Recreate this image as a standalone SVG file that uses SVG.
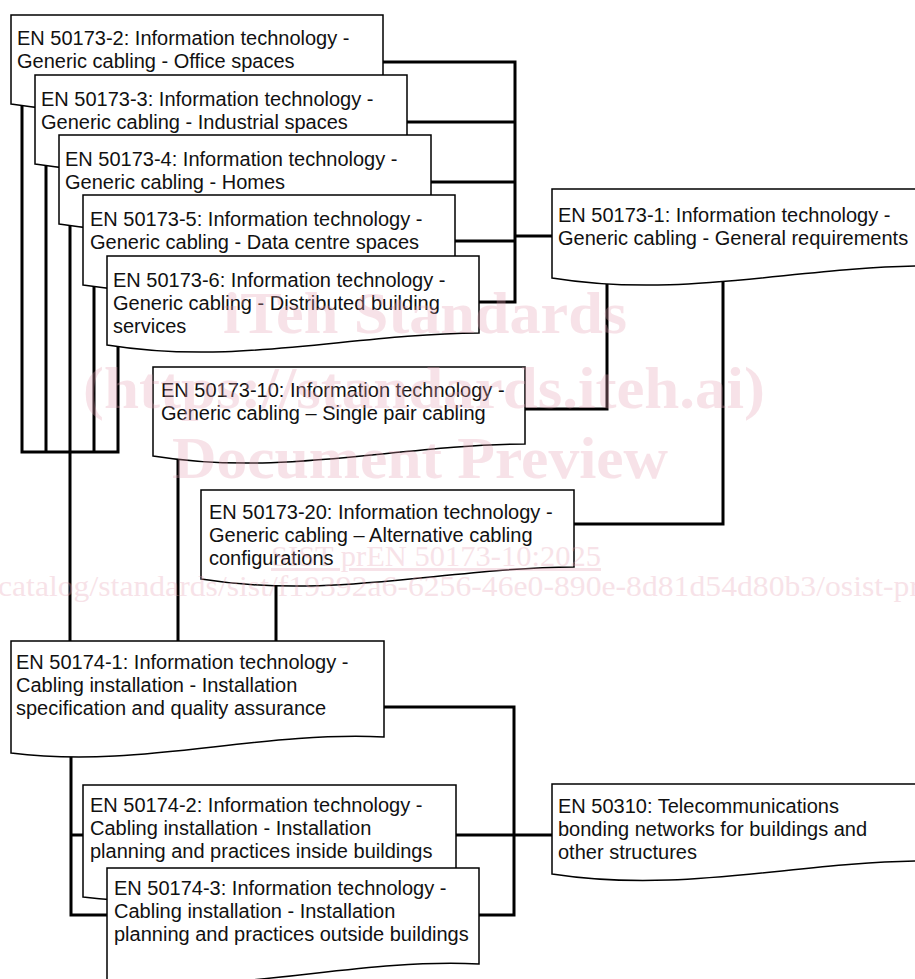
<svg xmlns="http://www.w3.org/2000/svg" width="915" height="979" viewBox="0 0 915 979">
<style>
.doc{fill:#fff;stroke:#000;stroke-width:1.5;stroke-linejoin:miter}
.t{font-family:"Liberation Sans",Arial,sans-serif;font-size:20px;fill:#111}
.c{fill:none;stroke:#000;stroke-width:3;stroke-linecap:square;stroke-linejoin:miter}
.wm{font-family:"Liberation Serif","Times New Roman",serif;fill:#e8a3b4;opacity:0.3}
.wmb{font-weight:bold;font-size:60px}
.wms{font-size:30px}
</style>
<rect x="0" y="0" width="915" height="979" fill="#fff"/>
<g id="connectors">
  <path class="c" d="M380,62 H515 M404,122 H515 M429,182 H515 M452,241 H515 M476,302 H515 M515,62 V302 M515,236 H552"/>
  <path class="c" d="M22,100 V452 M46,160 V452 M70,220 V645 M94,280 V452 M118,340 V452 M22,452 H118"/>
  <path class="c" d="M178,450 V645 M276,575 V645"/>
  <path class="c" d="M522,409 H607 V275 M570,524 H723 V275"/>
  <path class="c" d="M71,745 V915 H110 M71,835 H86 M380,707 H514 V915 H476 M452,835 H555"/>
</g>
<g id="n-50173-2">
  <path class="doc" d="M11,15 H383 V92 C253,93 141,125 11,104 Z"/>
  <text class="t" x="17" y="45">EN 50173-2: Information technology -</text>
  <text class="t" x="17" y="68">Generic cabling - Office spaces</text>
</g>
<g id="n-50173-3">
  <path class="doc" d="M35,75 H407 V152 C277,153 165,185 35,164 Z"/>
  <text class="t" x="41" y="106">EN 50173-3: Information technology -</text>
  <text class="t" x="41" y="129">Generic cabling - Industrial spaces</text>
</g>
<g id="n-50173-4">
  <path class="doc" d="M59,135 H431 V212 C301,213 189,245 59,224 Z"/>
  <text class="t" x="65" y="166">EN 50173-4: Information technology -</text>
  <text class="t" x="65" y="189">Generic cabling - Homes</text>
</g>
<g id="n-50173-5">
  <path class="doc" d="M83,195 H455 V272 C325,273 213,305 83,285 Z"/>
  <text class="t" x="90" y="226">EN 50173-5: Information technology -</text>
  <text class="t" x="90" y="249">Generic cabling - Data centre spaces</text>
</g>
<g id="n-50173-6">
  <path class="doc" d="M107,256 H479 V333 C349,334 237,366 107,345 Z"/>
  <text class="t" x="113" y="287">EN 50173-6: Information technology -</text>
  <text class="t" x="113" y="310">Generic cabling - Distributed building</text>
  <text class="t" x="113" y="333">services</text>
</g>
<g id="n-50173-1">
  <path class="doc" d="M552,189 H924 V266 C794,267 682,299 552,278 Z"/>
  <text class="t" x="558" y="222">EN 50173-1: Information technology -</text>
  <text class="t" x="558" y="245">Generic cabling - General requirements</text>
</g>
<g id="n-50173-10">
  <path class="doc" d="M153,367 H525 V444 C395,445 283,477 153,456 Z"/>
  <text class="t" x="161" y="397">EN 50173-10: Information technology -</text>
  <text class="t" x="161" y="420">Generic cabling – Single pair cabling</text>
</g>
<g id="n-50173-20">
  <path class="doc" d="M201,490 H574 V567 C444,568 331,600 201,579 Z"/>
  <text class="t" x="209" y="519">EN 50173-20: Information technology -</text>
  <text class="t" x="209" y="542">Generic cabling – Alternative cabling</text>
  <text class="t" x="209" y="565">configurations</text>
</g>
<g id="n-50174-1">
  <path class="doc" d="M11,641 H384 V737 C254,731 141,769 11,753 Z"/>
  <text class="t" x="16" y="669">EN 50174-1: Information technology -</text>
  <text class="t" x="16" y="692">Cabling installation - Installation</text>
  <text class="t" x="16" y="715">specification and quality assurance</text>
</g>
<g id="n-50174-2">
  <path class="doc" d="M83,785 H456 V881 C326,875 213,913 83,897 Z"/>
  <text class="t" x="90" y="812">EN 50174-2: Information technology -</text>
  <text class="t" x="90" y="835">Cabling installation - Installation</text>
  <text class="t" x="90" y="858">planning and practices inside buildings</text>
</g>
<g id="n-50174-3">
  <path class="doc" d="M107,868 H479 V964 C349,958 237,996 107,980 Z"/>
  <text class="t" x="114" y="895">EN 50174-3: Information technology -</text>
  <text class="t" x="114" y="918">Cabling installation - Installation</text>
  <text class="t" x="114" y="941">planning and practices outside buildings</text>
</g>
<g id="n-50310">
  <path class="doc" d="M552,784 H924 V861 C794,862 682,894 552,874 Z"/>
  <text class="t" x="558" y="813">EN 50310: Telecommunications</text>
  <text class="t" x="558" y="836">bonding networks for buildings and</text>
  <text class="t" x="558" y="859">other structures</text>
</g>
<g id="watermark" class="wm">
  <text class="wmb" x="425" y="333" text-anchor="middle" textLength="404" lengthAdjust="spacingAndGlyphs">iTeh Standards</text>
  <text class="wmb" x="424" y="408" text-anchor="middle" textLength="682" lengthAdjust="spacingAndGlyphs">(https://standards.iteh.ai)</text>
  <text class="wmb" x="420" y="478" text-anchor="middle" textLength="496" lengthAdjust="spacingAndGlyphs">Document Preview</text>
  <text class="wms" x="436" y="566" text-anchor="middle" textLength="330" lengthAdjust="spacingAndGlyphs" text-decoration="underline">SIST prEN 50173-10:2025</text>
  <text class="wms" x="-2" y="596" textLength="922" lengthAdjust="spacingAndGlyphs">catalog/standards/sist/f19392a6-6256-46e0-890e-8d81d54d80b3/osist-pr</text>
</g>
</svg>
